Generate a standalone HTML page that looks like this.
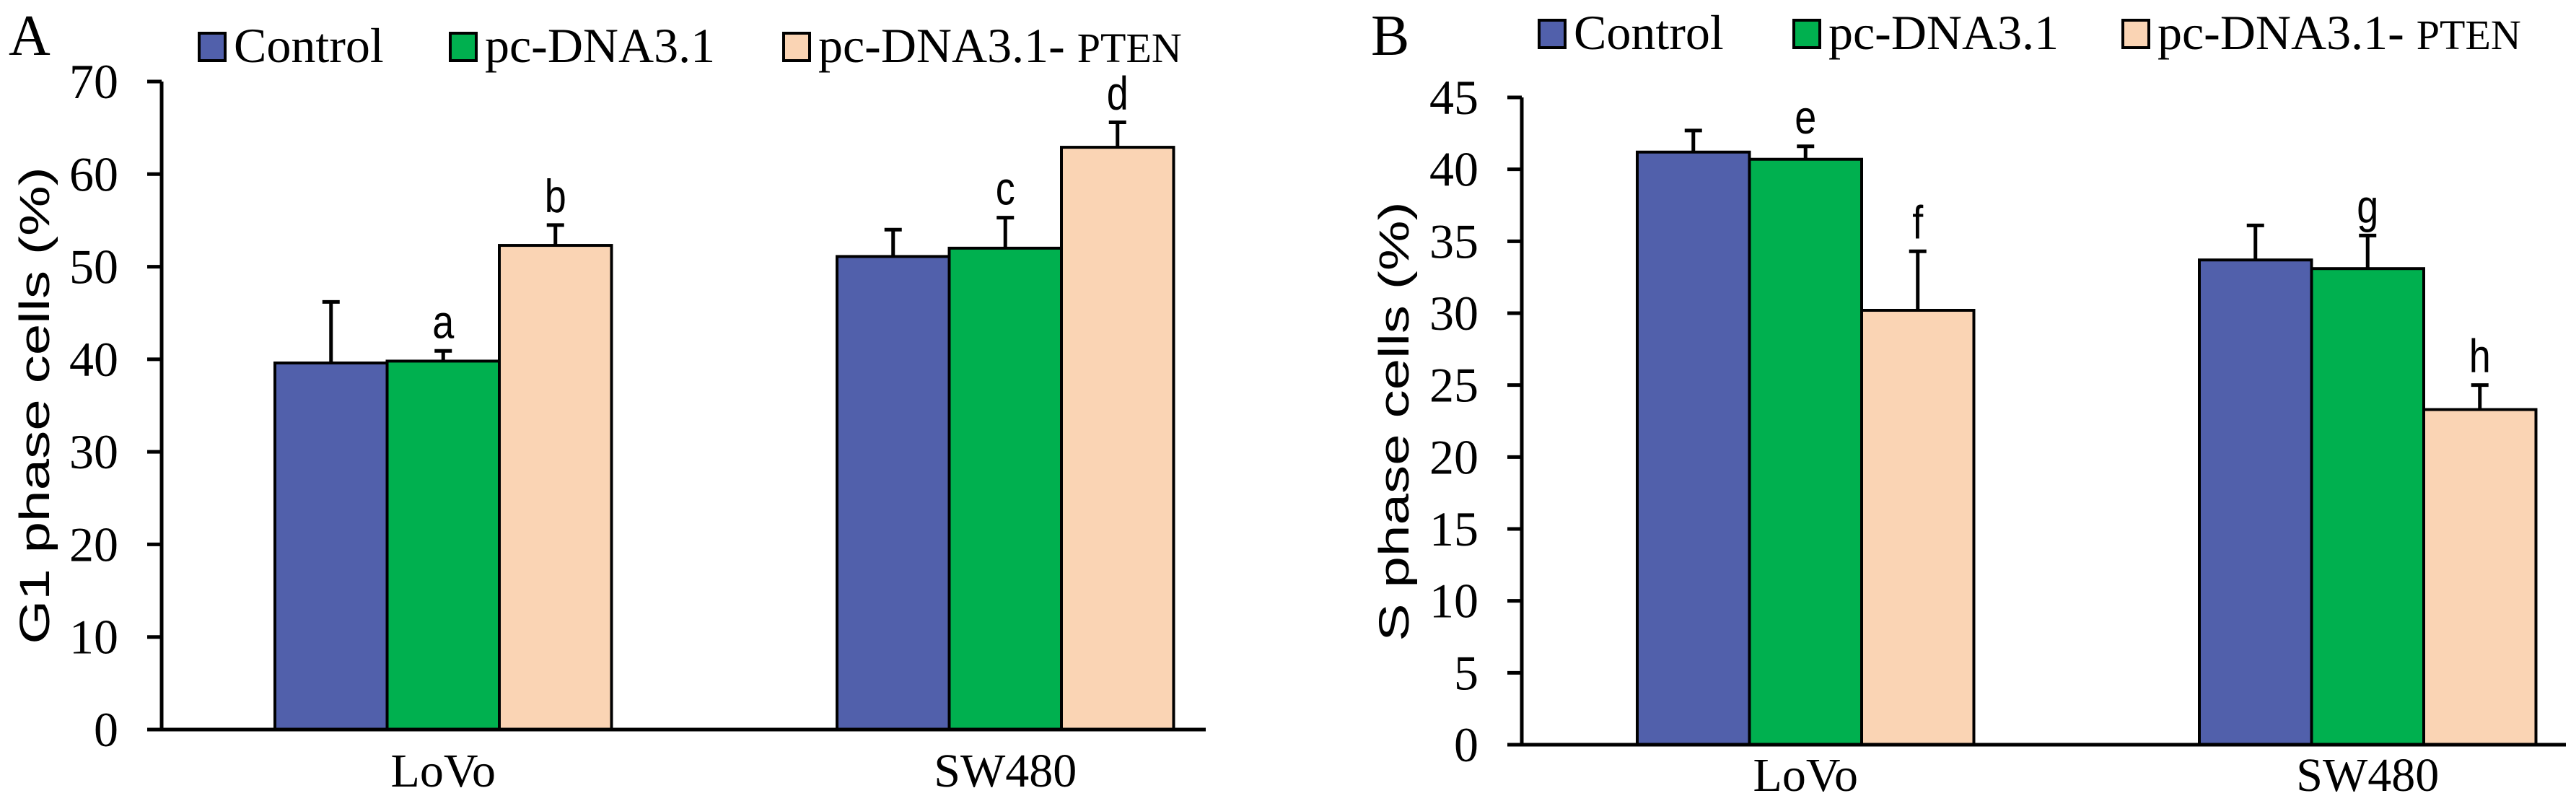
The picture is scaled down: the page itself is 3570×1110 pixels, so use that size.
<!DOCTYPE html>
<html><head><meta charset="utf-8"><style>
html,body{margin:0;padding:0;background:#fff;}
svg{display:block;}
.serif{font-family:"Liberation Serif",serif;}
.sans{font-family:"Liberation Sans",sans-serif;}
</style></head>
<body>
<svg id="chart" width="3570" height="1110" viewBox="0 0 3570 1110" xmlns="http://www.w3.org/2000/svg">
</svg>
<script>
const categories = ["LoVo", "SW480"];
const seriesNames = ["Control", "pc-DNA3.1", "pc-DNA3.1- PTEN"];
const g1Control = [39.6, 51.1];
const g1Vector = [39.8, 52.0];
const g1Pten = [52.3, 62.9];
const g1ControlErr = [6.6, 2.9];
const g1VectorErr = [1.1, 3.3];
const g1PtenErr = [2.2, 2.7];
const g1Letters = [["", "a", "b"], ["", "c", "d"]];
const g1Ticks = [0, 10, 20, 30, 40, 50, 60, 70];
const sControl = [41.2, 33.7];
const sVector = [40.7, 33.1];
const sPten = [30.2, 23.3];
const sControlErr = [1.5, 2.4];
const sVectorErr = [0.9, 2.3];
const sPtenErr = [4.1, 1.7];
const sLetters = [["", "e", "f"], ["", "g", "h"]];
const sTicks = [0, 5, 10, 15, 20, 25, 30, 35, 40, 45];

const NS = "http://www.w3.org/2000/svg";
const svg = document.getElementById("chart");
const colors = ["#5160AB", "#00B04F", "#FAD4B4"];
function mk(tag, attrs, parent, text) {
  const e = document.createElementNS(NS, tag);
  for (const k in attrs) e.setAttribute(k, attrs[k]);
  if (text !== undefined) e.textContent = text;
  (parent || svg).appendChild(e);
  return e;
}

function panel(cfg) {
  const g = mk("g", {});
  
  
  const y = v => cfg.y0 + (cfg.yTop - cfg.y0) * v / cfg.max;
  const vals = [cfg.c, cfg.v, cfg.p];
  const errs = [cfg.ce, cfg.ve, cfg.pe];
  categories.forEach((cat, ci) => {
    vals.forEach((arr, si) => {
      const x0 = cfg.groupStart[ci] + si * cfg.bw;
      const top = y(arr[ci]);
      const r = mk("rect", {x: x0, y: top, width: cfg.bw, height: cfg.y0 - top, fill: colors[si], stroke: "#000", "stroke-width": 4}, g);
      
      
      const cx = x0 + cfg.bw / 2;
      const et = y(arr[ci] + errs[si][ci]);
      const eb = mk("path", {d: `M${cx},${top} V${et} M${cx-12},${et} H${cx+12}`, stroke: "#000", "stroke-width": 5, fill: "none"}, g);
      
      
      const letter = cfg.letters[ci][si];
      if (letter) {
        const t = mk("text", {x: 0, y: 0, "text-anchor": "middle", "font-size": 54, class: "sans", transform: `translate(${cx},${et - 18}) scale(1,1.2)`}, g, letter);
        
        
      }
    });
    const xl = mk("text", {x: cfg.groupStart[ci] + 1.5 * cfg.bw, y: cfg.xLabY, "text-anchor": "middle", "font-size": 66, class: "serif"}, g, cat);
    
    
  });
  const ax = mk("path", {d: `M${cfg.ax},${y(cfg.max)} V${cfg.y0} M${cfg.ax-20},${cfg.y0} H${cfg.xEnd}`, stroke: "#000", "stroke-width": 5, fill: "none"}, g);
  
  
  cfg.ticks.forEach(t => {
    const ty = y(t);
    const tk = mk("line", {x1: cfg.ax - 20, x2: cfg.ax, y1: ty, y2: ty, stroke: "#000", "stroke-width": 5}, g);
    
    
    const tl = mk("text", {x: cfg.ax - 60, y: ty + 23, "text-anchor": "end", "font-size": 68, class: "serif"}, g, String(t));
    
    
  });
  const yt = mk("text", {x: 0, y: 0, "text-anchor": "middle", "font-size": 58, class: "sans", transform: `translate(${cfg.titleX},${cfg.titleY}) rotate(-90) scale(1.35,1)`}, g, cfg.title);
  
  
  const pl = mk("text", {x: cfg.panelX, y: 76, "font-size": 80, class: "serif"}, g, cfg.panel);
  
  
  cfg.legX.forEach((lx, i) => {
    const le = mk("g", {}, g);
    
    
    mk("rect", {x: lx, y: cfg.legY - 40, width: 36, height: 38, fill: colors[i], stroke: "#000", "stroke-width": 4}, le);
    const t = mk("text", {x: lx + 48, y: cfg.legY, "font-size": 68, class: "serif"}, le);
    if (i === 2) {
      mk("tspan", {}, t, "pc-DNA3.1- ");
      mk("tspan", {"font-size": 58}, t, "PTEN");
    } else t.textContent = seriesNames[i];
  });
}

panel({name: "panel-a-g1", panel: "A", panelX: 12, y0: 1011, yTop: 113, max: 70, ax: 224, xEnd: 1671,
  groupStart: [381, 1160], bw: 155.5, c: g1Control, v: g1Vector, p: g1Pten,
  ce: g1ControlErr, ve: g1VectorErr, pe: g1PtenErr, letters: g1Letters, ticks: g1Ticks,
  title: "G1 phase cells (%)", titleX: 68, titleY: 562, xLabY: 1090,
  legX: [276, 624, 1086], legY: 86});
panel({name: "panel-b-s", panel: "B", panelX: 1900, y0: 1032, yTop: 135, max: 45, ax: 2109, xEnd: 3556,
  groupStart: [2269, 3048], bw: 155.5, c: sControl, v: sVector, p: sPten,
  ce: sControlErr, ve: sVectorErr, pe: sPtenErr, letters: sLetters, ticks: sTicks,
  title: "S phase cells (%)", titleX: 1952, titleY: 584, xLabY: 1096,
  legX: [2133, 2486, 2942], legY: 68});
</script>
</body></html>
